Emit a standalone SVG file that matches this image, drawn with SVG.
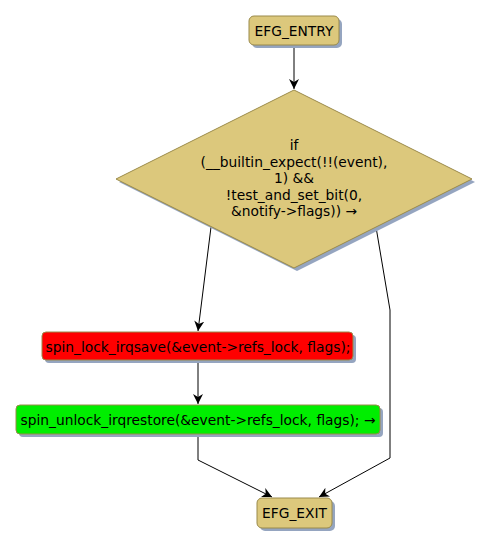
<svg xmlns="http://www.w3.org/2000/svg" width="491" height="548" viewBox="0 0 491 548">
<defs>
<style>
text{font-family:"DejaVu Sans",sans-serif;font-size:13.8px;fill:#000;text-anchor:middle}
.node{stroke:#9a8a4a;stroke-width:1}
.sh{fill:#95a5c0}
.edge{fill:none;stroke:#000;stroke-width:1}
</style>
<marker id="ah" viewBox="0 0 10 10" refX="10" refY="5" markerWidth="10" markerHeight="10" orient="auto" markerUnits="userSpaceOnUse">
<path d="M0,0 L10,5 L0,10 L3,5 Z" fill="#000"/>
</marker>
</defs>
<rect width="491" height="548" fill="#fff"/>
<g id="edges">
<path class="edge" d="M294,45 L294,89" marker-end="url(#ah)"/>
<path class="edge" d="M211,227 L198,331" marker-end="url(#ah)"/>
<path class="edge" d="M376,227 L390,310 L390,458 L319,497" marker-end="url(#ah)"/>
<path class="edge" d="M198,360 L198,404" marker-end="url(#ah)"/>
<path class="edge" d="M198,435 L198,460 L272,497" marker-end="url(#ah)"/>
</g>
<g id="entry">
<rect class="sh" x="252" y="19" width="90" height="29" rx="5"/>
<rect class="node" x="249" y="16" width="90" height="29" rx="5" fill="#dcc87c"/>
<text x="294" y="36">EFG_ENTRY</text>
</g>
<g id="cond">
<polygon class="sh" points="297,93 475,182 297,271 119,182"/>
<polygon class="node" points="294,90 472,179 294,268 116,179" fill="#dcc87c"/>
<text x="294" y="150">if</text>
<text x="294" y="167">(__builtin_expect(!!(event),</text>
<text x="294" y="183">1) &amp;&amp;</text>
<text x="294" y="200">!test_and_set_bit(0,</text>
<text x="294" y="216">&amp;notify-&gt;flags)) →</text>
</g>
<g id="lock">
<rect class="sh" x="45" y="335" width="311" height="28" rx="4"/>
<rect class="node" x="42" y="332" width="311" height="28" rx="4" fill="#ff0000"/>
<text x="198" y="352">spin_lock_irqsave(&amp;event-&gt;refs_lock, flags);</text>
</g>
<g id="unlock">
<rect class="sh" x="19" y="408" width="364" height="29" rx="4"/>
<rect class="node" x="16" y="405" width="364" height="29" rx="4" fill="#00ee00"/>
<text x="198" y="425">spin_unlock_irqrestore(&amp;event-&gt;refs_lock, flags); →</text>
</g>
<g id="exit">
<rect class="sh" x="260" y="501" width="75" height="30" rx="5"/>
<rect class="node" x="257" y="498" width="75" height="30" rx="5" fill="#dcc87c"/>
<text x="294.5" y="518">EFG_EXIT</text>
</g>
</svg>
